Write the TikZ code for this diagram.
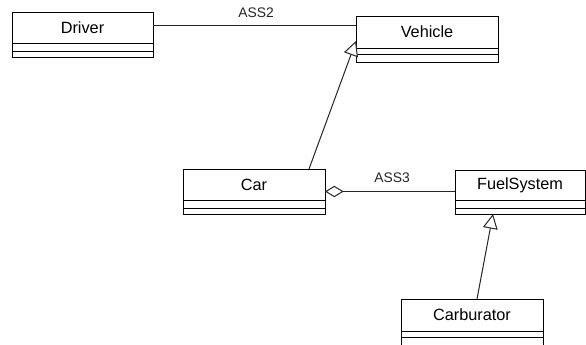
\documentclass[tikz,border=0pt]{standalone}
\usepackage{fontspec}
\setmainfont{Liberation Sans}
\usetikzlibrary{arrows.meta,calc}
\tikzset{
  cls/.style={draw=black, line width=0.75pt, fill=white, rectangle, inner sep=0pt, outer sep=0pt, anchor=north west},
  clsname/.style={font=\fontsize{12.2pt}{14pt}\selectfont, inner sep=0pt},
  asslabel/.style={font=\fontsize{10.4pt}{12pt}\selectfont, text=black!85, inner sep=0pt},
  conn/.style={draw=black!85, line width=0.75pt},
  gen/.style={conn, -{Triangle[open, length=11pt, width=11pt, fill=white]}},
  agg/.style={conn, {Diamond[open, length=14pt, width=8.5pt, fill=white]}-},
  sepline/.style={draw=black, line width=0.75pt}
}
\newcommand{\umlclass}[8]{%
  % #1 name, #2 x1, #3 y1, #4 x2, #5 y2, #6 text, #7 line1, #8 line2
  \node[cls, minimum width={(#4-#2)*0.75pt}, minimum height={(#5-#3)*0.75pt}] (#1) at (#2,#3) {};
  \node[clsname] (#1-name) at ({(#2+#4)/2},{(#3+#7)/2}) {#6};
  \draw[sepline] (#2,#7) -- (#4,#7);
  \draw[sepline] (#2,#8) -- (#4,#8);
}
\begin{document}
\begin{tikzpicture}[x=0.75pt, y=-0.75pt]
\useasboundingbox (0,0) rectangle (586,344);
\fill[white] (0,0) rectangle (586,344);
\umlclass{driver}{12}{12}{153}{57}{Driver}{43}{51}
\umlclass{vehicle}{356}{16}{498}{62}{Vehicle}{48}{54}
\umlclass{car}{183}{169}{325}{214}{Car}{200}{208}
\umlclass{fuel}{455}{170}{585}{214}{FuelSystem}{200}{208}
\umlclass{carb}{401}{299}{543}{346}{Carburator}{331}{337}
% ASS2 association
\coordinate (ass2y) at (0,25.5);
\draw[conn] (driver.east |- ass2y) -- (vehicle.west |- ass2y);
\node[asslabel] (ass2) at (256,13) {ASS2};
% Car generalizes Vehicle
\draw[gen] ($(car.north west)+(126,0)$) -- ($(vehicle.north west)+(0,25)$);
% Aggregation Car - FuelSystem
\draw[agg] (car.east) -- (fuel.west |- car.east);
\node[asslabel] (ass3) at (392,178) {ASS3};
% Carburator generalizes FuelSystem
\draw[gen] ($(carb.north west)+(76,0)$) -- ($(fuel.south west)+(38,0)$);
\end{tikzpicture}
\end{document}
